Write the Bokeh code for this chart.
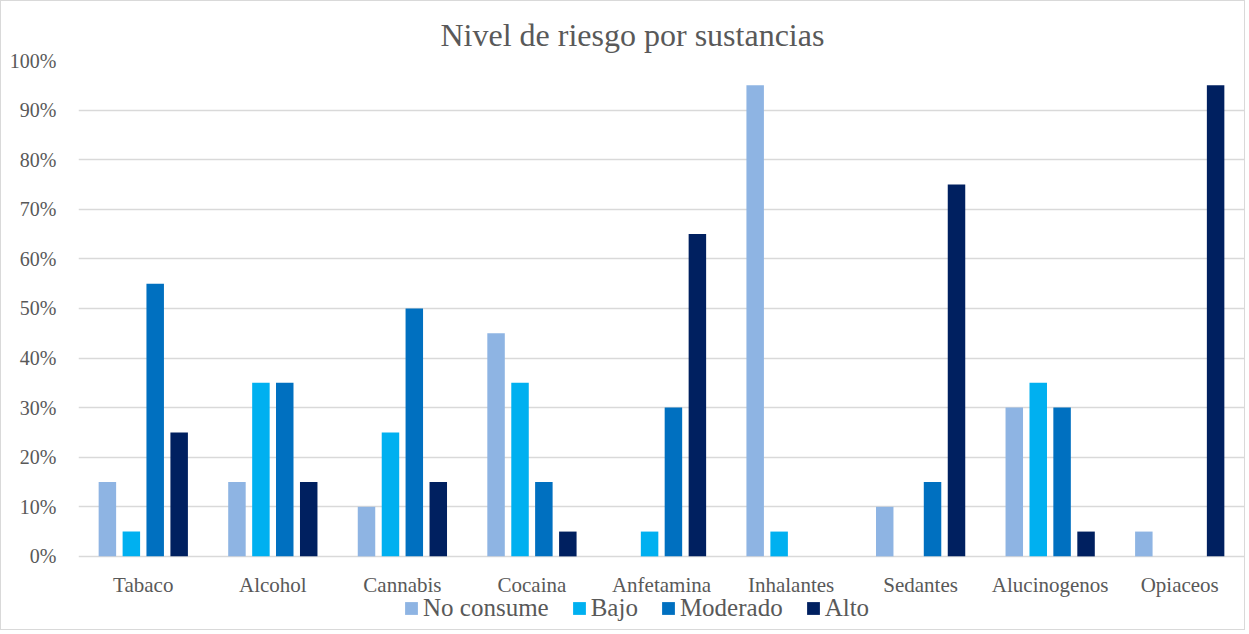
from bokeh.plotting import figure
from bokeh.models import FactorRange, FixedTicker, NumeralTickFormatter, Legend, LegendItem, ColumnDataSource, Range1d
from bokeh.core.properties import value
from bokeh.transform import dodge
from bokeh.embed import file_html
from bokeh.resources import INLINE

categories = ["Tabaco", "Alcohol", "Cannabis", "Cocaina", "Anfetamina", "Inhalantes", "Sedantes", "Alucinogenos", "Opiaceos"]
no_consume = [0.15, 0.15, 0.10, 0.45, 0.00, 0.95, 0.10, 0.30, 0.05]
bajo = [0.05, 0.35, 0.25, 0.35, 0.05, 0.05, 0.00, 0.35, 0.00]
moderado = [0.55, 0.35, 0.50, 0.15, 0.30, 0.00, 0.15, 0.30, 0.00]
alto = [0.25, 0.15, 0.15, 0.05, 0.65, 0.00, 0.75, 0.05, 0.95]
series_names = ["No consume", "Bajo", "Moderado", "Alto"]
colors = ["#8EB4E3", "#00B0F0", "#0070C0", "#002060"]
y_ticks = [0.0, 0.1, 0.2, 0.3, 0.4, 0.5, 0.6, 0.7, 0.8, 0.9, 1.0]

FONT = "Liberation Serif"
GRAY = "#595959"

src = ColumnDataSource(dict(cat=categories, nc=no_consume, b=bajo, m=moderado, a=alto,
                            lab_y=[-0.057] * len(categories)))

p = figure(x_range=FactorRange(*categories, range_padding=0), y_range=Range1d(-0.1495, 1.0),
           width=1245, height=630, output_backend="svg", toolbar_location=None,
           min_border_left=77, min_border_right=2, min_border_top=59, min_border_bottom=1)
p.styles = {"border": "1px solid #d9d9d9"}

p.title.text = "Nivel de riesgo por sustancias"
p.title.align = "left"
p.title.offset = 362
p.title.standoff = 16
p.title.text_font = FONT
p.title.text_font_size = "32px"
p.title.text_font_style = "normal"
p.title.text_color = GRAY

p.ygrid.grid_line_color = "#d9d9d9"
p.ygrid.grid_line_width = 1.5
p.ygrid.ticker = FixedTicker(ticks=y_ticks)
p.xgrid.grid_line_color = None
p.outline_line_color = None

offsets = [-0.277, -0.092, 0.092, 0.277]
fields = ["nc", "b", "m", "a"]
items = []
for f, off, c, name in zip(fields, offsets, colors, series_names):
    r = p.vbar(x=dodge("cat", off, range=p.x_range), top=f, bottom=0, width=0.135, source=src,
               fill_color=c, line_color=None)
    items.append(LegendItem(label=name, renderers=[r]))

p.text(x="cat", y="lab_y", text="cat", source=src, text_font=value(FONT),
       text_font_size="21px", text_color=GRAY, text_align="center", text_baseline="middle")

p.yaxis.ticker = FixedTicker(ticks=y_ticks)
p.yaxis.formatter = NumeralTickFormatter(format="0%")
p.yaxis.axis_line_color = None
p.yaxis.major_tick_line_color = None
p.yaxis.minor_tick_line_color = None
p.yaxis.major_label_standoff = 16
p.yaxis.major_label_text_font = FONT
p.yaxis.major_label_text_color = GRAY
p.yaxis.major_label_text_font_size = "20px"
p.xaxis.visible = False

legend = Legend(items=items, orientation="horizontal", location=(325, 8),
                glyph_width=16, glyph_height=16, spacing=22, padding=0, margin=0,
                border_line_color=None, background_fill_alpha=0, label_standoff=4,
                label_height=24)
legend.label_text_font = "'Liberation Serif', serif"
legend.label_text_font_style = "normal"
legend.label_text_font_size = "25px"
legend.label_text_color = GRAY
p.add_layout(legend, "center")

open("out.html", "w").write(file_html(p, INLINE))
